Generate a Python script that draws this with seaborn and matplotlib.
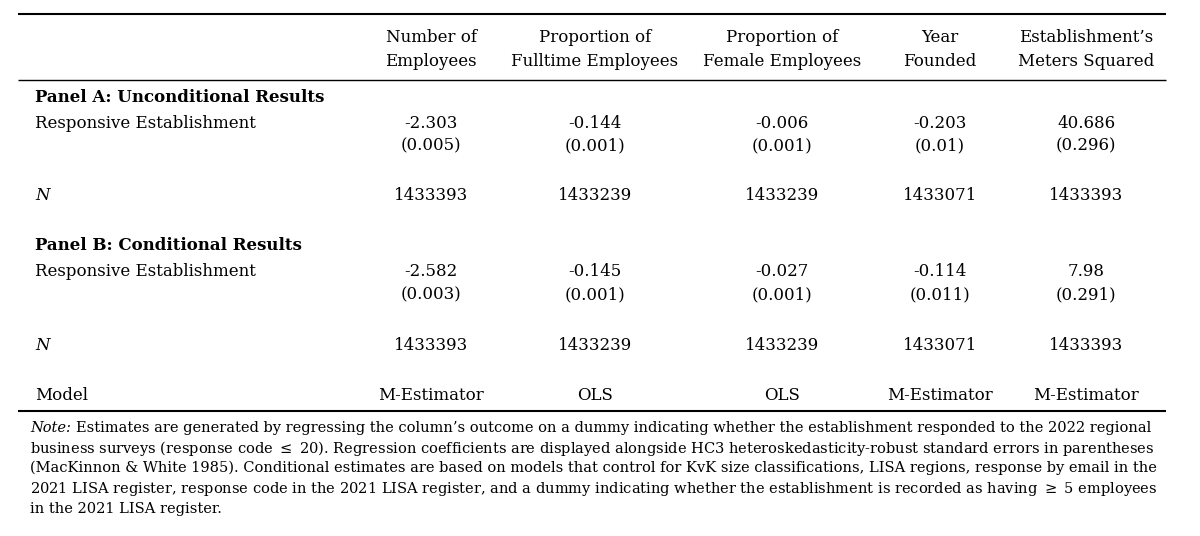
import matplotlib.pyplot as plt
import seaborn as sns

sns.set_style("white")
plt.rcParams['font.family'] = ['DejaVu Serif']
plt.rcParams['mathtext.fontset'] = 'dejavuserif'
plt.rcParams['text.color'] = 'black'

# table content
headers = [("Number of", "Employees"), ("Proportion of", "Fulltime Employees"),
           ("Proportion of", "Female Employees"), ("Year", "Founded"),
           ("Establishment\u2019s", "Meters Squared")]
coef_a = ["-2.303", "-0.144", "-0.006", "-0.203", "40.686"]
se_a = ["(0.005)", "(0.001)", "(0.001)", "(0.01)", "(0.296)"]
n_a = ["1433393", "1433239", "1433239", "1433071", "1433393"]
coef_b = ["-2.582", "-0.145", "-0.027", "-0.114", "7.98"]
se_b = ["(0.003)", "(0.001)", "(0.001)", "(0.011)", "(0.291)"]
n_b = ["1433393", "1433239", "1433239", "1433071", "1433393"]
models = ["M-Estimator", "OLS", "OLS", "M-Estimator", "M-Estimator"]
note_lines = [
    "Estimates are generated by regressing the column\u2019s outcome on a dummy indicating whether the establishment responded to the 2022 regional",
    "business surveys (response code $\\leq$ 20). Regression coefficients are displayed alongside HC3 heteroskedasticity-robust standard errors in parentheses",
    "(MacKinnon & White 1985). Conditional estimates are based on models that control for KvK size classifications, LISA regions, response by email in the",
    "2021 LISA register, response code in the 2021 LISA register, and a dummy indicating whether the establishment is recorded as having $\\geq$ 5 employees",
    "in the 2021 LISA register.",
]

col_x = [431, 595, 782, 940, 1086]
fs = 12

fig = plt.figure(figsize=(12, 5.36), dpi=100)
ax = fig.add_axes([0, 0, 1, 1])
ax.set_xlim(0, 1200)
ax.set_ylim(536, 0)
ax.axis("off")

def row(y, vals, **kw):
    for x, v in zip(col_x, vals):
        ax.text(x, y, v, ha="center", va="center", fontsize=fs, color="black", **kw)

ax.hlines(14, 18, 1166, color="black", lw=1.5)
row(37, [h[0] for h in headers])
row(62, [h[1] for h in headers])
ax.hlines(80, 18, 1166, color="black", lw=1)

ax.text(35, 98, "Panel A: Unconditional Results", fontsize=fs, fontweight="bold", va="center")
ax.text(35, 123, "Responsive Establishment", fontsize=fs, va="center")
row(123, coef_a)
row(146, se_a)
ax.text(35, 196, "N", fontsize=fs, style="italic", va="center")
row(196, n_a)

ax.text(35, 246, "Panel B: Conditional Results", fontsize=fs, fontweight="bold", va="center")
ax.text(35, 272, "Responsive Establishment", fontsize=fs, va="center")
row(272, coef_b)
row(295, se_b)
ax.text(35, 346, "N", fontsize=fs, style="italic", va="center")
row(346, n_b)

ax.text(35, 396, "Model", fontsize=fs, va="center")
row(396, models)
ax.hlines(411, 18, 1166, color="black", lw=1.5)

note_fs = 10.5
ax.text(30, 428, "Note:", fontsize=note_fs, style="italic", va="center")
ax.text(76, 428, note_lines[0], fontsize=note_fs, va="center")
for i, line in enumerate(note_lines[1:]):
    ax.text(30, 448 + 20.3 * i, line, fontsize=note_fs, va="center")

fig.savefig("out.png", dpi=100)
